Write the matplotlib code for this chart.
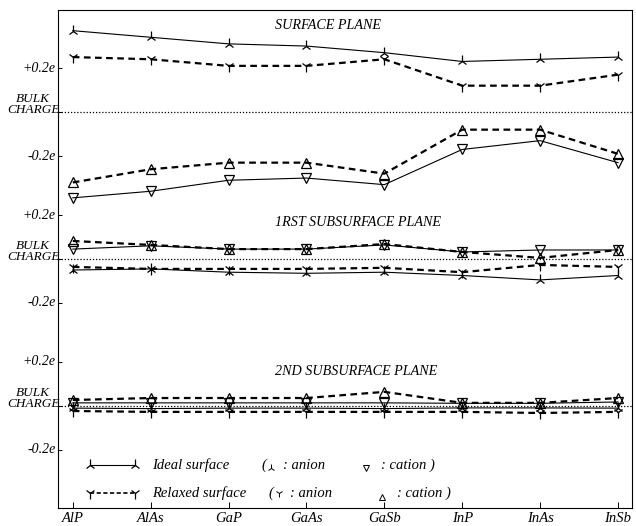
import matplotlib.pyplot as plt

# charges relative to bulk (units of e)
compounds = ["AlP", "AlAs", "GaP", "GaAs", "GaSb", "InP", "InAs", "InSb"]

# surface plane
surf_ideal_anion = [0.37, 0.34, 0.31, 0.30, 0.27, 0.23, 0.24, 0.25]
surf_relax_anion = [0.25, 0.24, 0.21, 0.21, 0.24, 0.12, 0.12, 0.17]
surf_ideal_cation = [-0.39, -0.36, -0.31, -0.30, -0.33, -0.17, -0.13, -0.23]
surf_relax_cation = [-0.32, -0.26, -0.23, -0.23, -0.28, -0.08, -0.08, -0.19]

# 1rst subsurface plane
sub1_ideal_anion = [-0.05, -0.045, -0.06, -0.065, -0.06, -0.075, -0.095, -0.075]
sub1_relax_anion = [-0.036, -0.045, -0.045, -0.045, -0.04, -0.06, -0.027, -0.036]
sub1_ideal_cation = [0.045, 0.06, 0.045, 0.045, 0.064, 0.032, 0.041, 0.041]
sub1_relax_cation = [0.082, 0.064, 0.045, 0.045, 0.068, 0.032, 0.005, 0.041]

# 2nd subsurface plane
sub2_ideal_anion = [-0.01, -0.012, -0.01, -0.01, -0.012, -0.009, -0.009, -0.01]
sub2_relax_anion = [-0.023, -0.027, -0.027, -0.027, -0.027, -0.027, -0.032, -0.027]
sub2_ideal_cation = [0.014, 0.014, 0.014, 0.014, 0.014, 0.012, 0.012, 0.018]
sub2_relax_cation = [0.027, 0.036, 0.036, 0.036, 0.064, 0.014, 0.014, 0.036]

panel_titles = ["SURFACE PLANE", "1RST SUBSURFACE PLANE", "2ND SUBSURFACE PLANE"]
panel_offsets = [0.0, -0.668, -1.336]
title_heights = [0.395, 0.168, 0.155]

FONT = dict(family="Liberation Serif", style="italic")

panels = [
    (surf_ideal_anion, surf_relax_anion, surf_ideal_cation, surf_relax_cation),
    (sub1_ideal_anion, sub1_relax_anion, sub1_ideal_cation, sub1_relax_cation),
    (sub2_ideal_anion, sub2_relax_anion, sub2_ideal_cation, sub2_relax_cation),
]

fig = plt.figure(figsize=(6.36, 5.26), dpi=100)
ax = fig.add_axes([0.0912, 0.0342, 0.9025, 0.9468])

x = list(range(len(compounds)))
solid = dict(color="black", lw=0.8, ls="-", mfc="none", mew=0.9)
dashed = dict(color="black", lw=1.6, ls=(0, (3, 2)), mfc="none", mew=0.9)

for (ia, ra, ic, rc), off, title, th in zip(panels, panel_offsets, panel_titles, title_heights):
    ax.axhline(off, color="black", lw=0.9, ls=(0, (1, 1.5)))
    ax.plot(x, [v + off for v in ia], marker="2", markersize=8, **solid)
    ax.plot(x, [v + off for v in ra], marker="1", markersize=8, **dashed)
    ax.plot(x, [v + off for v in ic], marker="v", markersize=6.5, **solid)
    ax.plot(x, [v + off for v in rc], marker="^", markersize=6.5, **dashed)
    ax.text(2.59, off + th, title, fontsize=10.2, ha="left", va="center", **FONT)
    ax.text(-0.22, off + 0.2, "+0.2e", fontsize=10, ha="right", va="center", **FONT)
    ax.text(-0.22, off - 0.2, "-0.2e", fontsize=10, ha="right", va="center", **FONT)
    ax.text(-0.17, off + 0.035, "BULK\nCHARGE", fontsize=9.5, ha="right", va="center",
            linespacing=0.85, multialignment="center", **FONT)

ax.set_xlim(-0.19, 7.18)
ax.set_ylim(-1.80, 0.464)
ax.set_yticks([o + d for o in panel_offsets for d in (0.2, 0.0, -0.2)])
ax.set_yticklabels([])
ax.set_xticks(x)
ax.set_xticklabels(compounds, fontsize=10.5, **FONT)
ax.tick_params(axis="x", direction="in", length=4, width=0.7, pad=3)
ax.tick_params(axis="y", direction="in", length=3, width=0.7)
for sp in ax.spines.values():
    sp.set_linewidth(0.8)

# legend drawn by hand
tr = ax.transAxes
ax.plot([0.056, 0.134], [0.086, 0.086], marker="2", markersize=8, transform=tr, **solid)
ax.plot([0.056, 0.134], [0.030, 0.030], marker="1", color="black", lw=1.2,
        ls=(0, (2.5, 1.5)), markersize=8, mew=0.9, transform=tr)
ax.text(0.164, 0.086, "Ideal surface", transform=tr, fontsize=10.5, va="center", **FONT)
ax.text(0.164, 0.030, "Relaxed surface", transform=tr, fontsize=10.5, va="center", **FONT)
ax.text(0.355, 0.086, "(", transform=tr, fontsize=10.5, va="center", **FONT)
ax.plot([0.371], [0.080], marker="2", color="black", markersize=6, mew=0.7, transform=tr)
ax.text(0.392, 0.086, ": anion", transform=tr, fontsize=10.5, va="center", **FONT)
ax.plot([0.537], [0.080], marker="v", color="black", mfc="none", markersize=5, mew=0.7, transform=tr)
ax.text(0.562, 0.086, ": cation )", transform=tr, fontsize=10.5, va="center", **FONT)
ax.text(0.366, 0.030, "(", transform=tr, fontsize=10.5, va="center", **FONT)
ax.plot([0.385], [0.030], marker="1", color="black", markersize=6, mew=0.7, transform=tr)
ax.text(0.405, 0.030, ": anion", transform=tr, fontsize=10.5, va="center", **FONT)
ax.plot([0.565], [0.022], marker="^", color="black", mfc="none", markersize=5, mew=0.7, transform=tr)
ax.text(0.590, 0.030, ": cation )", transform=tr, fontsize=10.5, va="center", **FONT)

fig.savefig("out.png", dpi=100)
